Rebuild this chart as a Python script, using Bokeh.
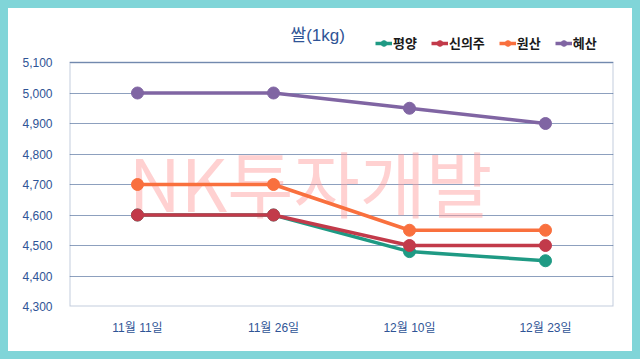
from bokeh.plotting import figure
from bokeh.models import (Legend, LegendItem, Label, FixedTicker, NumeralTickFormatter,
                          BoxAnnotation, Range1d)
from bokeh.embed import file_html
from bokeh.resources import INLINE

dates = ["11월 11일", "11월 26일", "12월 10일", "12월 23일"]
pyongyang = [4600, 4600, 4480, 4450]
sinuiju = [4600, 4600, 4500, 4500]
wonsan = [4700, 4700, 4550, 4550]
hyesan = [5000, 5000, 4950, 4900]
series_names = ["평양", "신의주", "원산", "혜산"]
series_colors = ["#1f9a84", "#c23a4a", "#f9703e", "#8065a3"]
y_ticks = [4300, 4400, 4500, 4600, 4700, 4800, 4900, 5000, 5100]
title_text = "쌀(1kg)"
watermark_text = "NK투자개발"

LAT = "Liberation Sans, Noto Sans CJK KR"
BLUE = "#2f5496"
TEAL = "#80d5d8"
NAVY = "#34558a"

W, H = 632, 351
BL, BR, BT, BB = 69, 19, 10, 45
plot_box_h = 244  # pixel height of the 4300..5100 box
frame_h = H - BT - BB
y_lo, y_hi = y_ticks[0], y_ticks[-1]
y_top = y_lo + (y_hi - y_lo) * frame_h / plot_box_h

p = figure(x_range=dates, y_range=Range1d(y_lo, y_top), width=W, height=H,
           output_backend="svg", toolbar_location=None,
           min_border_left=BL, min_border_right=BR, min_border_top=BT, min_border_bottom=BB)
p.styles = {"background-color": "white",
            "box-shadow": "inset 8px 8px 0 0 " + TEAL,
            "outline": "8px solid " + TEAL}
p.background_fill_color = "white"
p.border_fill_alpha = 0
p.outline_line_color = None

p.xgrid.grid_line_color = None
p.ygrid.grid_line_color = "#8da0be"
p.ygrid.grid_line_width = 1
p.yaxis.ticker = FixedTicker(ticks=y_ticks)
p.yaxis.formatter = NumeralTickFormatter(format="0,0")
for ax in (p.xaxis, p.yaxis):
    ax.axis_line_color = None
    ax.major_tick_line_color = None
    ax.minor_tick_line_color = None
    ax.major_label_text_font = LAT
    ax.major_label_text_font_size = "12px"
    ax.major_label_text_color = BLUE
p.yaxis.major_label_standoff = 11
p.xaxis.major_label_standoff = 8

wm = Label(x=241, y=126, x_units="screen", y_units="screen", text=watermark_text,
           text_align="center", text_baseline="middle", text_font="Noto Sans CJK KR",
           text_font_size="72px", text_color="#ff9a9a", text_alpha=0.45, level="underlay")
p.add_layout(wm)

box = BoxAnnotation(bottom=y_lo, top=y_hi, fill_alpha=0, line_color=NAVY, line_width=2,
                    level="underlay")
p.add_layout(box)

items = []
for name, vals, col in zip(series_names, [pyongyang, sinuiju, wonsan, hyesan], series_colors):
    r1 = p.line(dates, vals, line_color=col, line_width=3.5)
    r2 = p.scatter(dates, vals, size=12, fill_color=col, line_color=col)
    items.append(LegendItem(label=name, renderers=[r1, r2]))

legend = Legend(items=items, orientation="horizontal", location=(306, 254),
                glyph_width=17, glyph_height=14, label_standoff=1, spacing=14,
                padding=0, margin=0, border_line_color=None, background_fill_alpha=0,
                label_text_font="Noto Sans CJK KR", label_text_font_size="13px",
                label_text_font_style="bold", label_text_color="#1a1a1a")
p.add_layout(legend, "center")

title = Label(x=221, y=271, x_units="screen", y_units="screen", text=title_text,
              text_font=LAT, text_font_size="17px", text_color=BLUE,
              text_baseline="middle")
p.add_layout(title)

open("out.html", "w").write(file_html(p, INLINE))
